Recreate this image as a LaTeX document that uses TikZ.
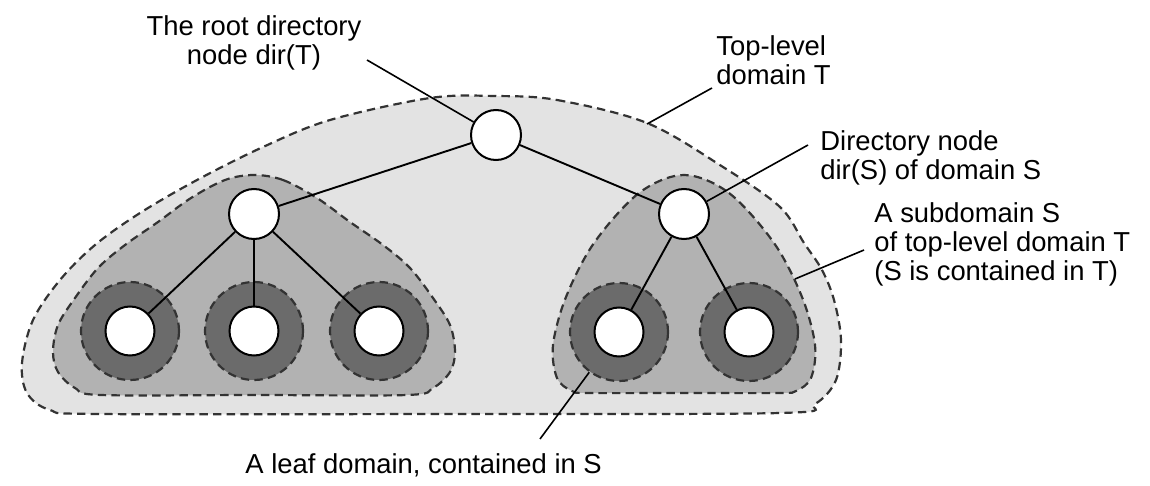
\documentclass[tikz,border=0pt]{standalone}
\usepackage{fontspec}
\setmainfont{Liberation Sans}
\definecolor{lightdom}{gray}{0.89}
\definecolor{middom}{gray}{0.70}
\definecolor{darkdom}{gray}{0.42}
\begin{document}
\begin{tikzpicture}[x=0.5pt,y=-0.5pt,
  dom/.style={draw=black!80, line width=1.1pt, dash pattern=on 4.2pt off 2.6pt},
  vertex/.style={circle, draw=black, fill=white, line width=1pt, inner sep=0pt, minimum size=25pt},
  leaf/.style={vertex, minimum size=24.5pt},
  ring/.style={circle, dom, fill=darkdom, inner sep=0pt, minimum size=49pt},
  edge/.style={line width=0.95pt},
  leader/.style={line width=0.8pt},
  lbl/.style={font=\fontsize{13.7}{14.5}\selectfont, inner sep=0pt}]
\useasboundingbox (0,0) rectangle (1150,486);

% top-level domain T
\draw[dom, fill=lightdom] plot[smooth cycle, tension=0.55] coordinates {
  (495,96) (557,100) (647,123) (723,167) (780,207) (804,243) (822,270)
  (834,300) (841,340) (836,380) (815,404) (780,413) (440,414) (100,414) (50,410)
  (27,393) (22,363) (33,320) (60,280) (95,245) (140,213) (197,180)
  (263,147) (330,120) (430,98)};

% subdomains
\draw[dom, fill=middom] plot[smooth cycle, tension=0.55] coordinates {
  (254,175) (283,180) (317,198) (350,222) (383,245) (410,268) (433,298)
  (450,325) (455,352) (450,372) (433,388) (407,395) (254,395) (101,395)
  (75,388) (58,372) (53,352) (58,325) (75,298) (98,268) (125,245)
  (158,222) (191,198) (225,180)};
\draw[dom, fill=middom] plot[smooth cycle, tension=0.55] coordinates {
  (684,175) (729,193) (774,243) (802,297) (815,345) (811,378) (796,391)
  (779,393) (684,393) (589,393) (572,391) (557,378) (553,345) (566,297)
  (594,243) (639,193)};

% leaf domains
\node[ring] (r1) at (130,331) {};
\node[ring] (r2) at (254,331) {};
\node[ring] (r3) at (379,331) {};
\node[ring] (r4) at (619,332) {};
\node[ring] (r5) at (749,332) {};

% nodes
\node[vertex] (root) at (496,135) {};
\node[vertex] (ld) at (254,214) {};
\node[vertex] (rd) at (684,214) {};
\node[leaf] (l1) at (130,331) {};
\node[leaf] (l2) at (254,331) {};
\node[leaf] (l3) at (379,331) {};
\node[leaf] (l4) at (619,332) {};
\node[leaf] (l5) at (749,332) {};

\draw[edge] (root) -- (ld);
\draw[edge] (root) -- (rd);
\draw[edge] (ld) -- (l1);
\draw[edge] (ld) -- (l2);
\draw[edge] (ld) -- (l3);
\draw[edge] (rd) -- (l4);
\draw[edge] (rd) -- (l5);

% labels
\node[lbl, align=center, anchor=north] (tRoot) at (254,15) {The root directory\\node dir(T)};
\coordinate (aRoot) at (367,60);
\draw[leader] (aRoot) -- (root);

\node[lbl, align=left, anchor=north west] (tTop) at (716,35) {Top-level\\domain T};
\coordinate (aTop1) at (712,88);
\coordinate (aTop2) at (647,124);
\draw[leader] (aTop1) -- (aTop2);

\node[lbl, align=left, anchor=north west] (tDir) at (820,130) {Directory node\\dir(S) of domain S};
\coordinate (aDir) at (808,145);
\draw[leader] (aDir) -- (rd);

\node[lbl, align=left, anchor=north west] (tSub) at (874,202) {A subdomain S\\of top-level domain T\\(S is contained in T)};
\coordinate (aSub1) at (864,250);
\coordinate (aSub2) at (795,279);
\draw[leader] (aSub1) -- (aSub2);

\node[lbl, anchor=base west] (tLeaf) at (245,473) {A leaf domain, contained in S};
\coordinate (aLeaf) at (540,439);
\draw[leader] (aLeaf) -- (r4);
\end{tikzpicture}
\end{document}
